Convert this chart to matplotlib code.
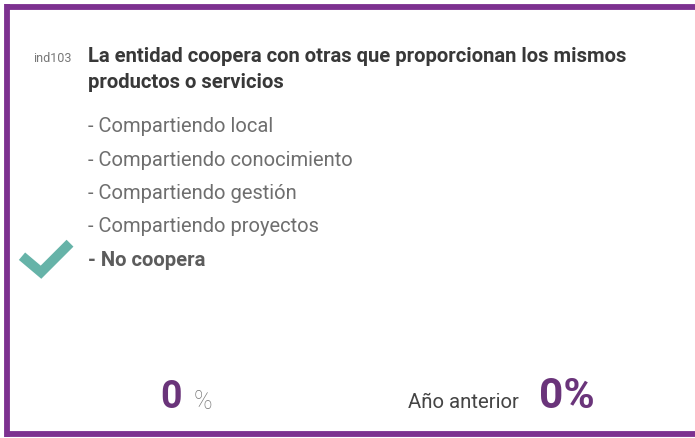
import matplotlib.pyplot as plt

code = "ind103"
title_lines = ["La entidad coopera con otras que proporcionan los mismos",
               "productos o servicios"]
options = ["- Compartiendo local",
           "- Compartiendo conocimiento",
           "- Compartiendo gestión",
           "- Compartiendo proyectos",
           "- No coopera"]
selected = 4
value = 0
prev_label = "Año anterior"
prev_value = 0

PURPLE = "#7d3190"
NUM = "#6a347a"
TEAL = "#66b3a8"

plt.rcParams['font.family'] = ['Roboto', 'DejaVu Sans']

fig = plt.figure(figsize=(6.95, 4.39), dpi=100)
ax = fig.add_axes([0, 0, 1, 1])
ax.set_xlim(0, 695)
ax.set_ylim(439, 0)
ax.axis('off')

# card border (top, left, bottom)
ax.plot([7, 695], [7.5, 7.5], color=PURPLE, lw=4.2, solid_capstyle='butt')
ax.plot([7, 7], [5, 438], color=PURPLE, lw=4.2, solid_capstyle='butt')
ax.plot([5, 695], [435.5, 435.5], color=PURPLE, lw=4.2, solid_capstyle='butt')

ax.text(33, 58, code, fontsize=9, color="#777777", va='center')
for i, line in enumerate(title_lines):
    ax.text(88, 56 + i * 27, line, fontsize=14.6, fontweight='bold',
            color="#383838", va='center')

for i, opt in enumerate(options):
    y = 127 + i * 33.3
    if i == selected:
        ax.text(88, y, opt, fontsize=14.6, fontweight='bold', color="#5c5c5c", va='center')
        ax.plot([22, 41, 70], [y - 3, y + 13, y - 16], color=TEAL, lw=7,
                solid_capstyle='butt', solid_joinstyle='miter')
    else:
        ax.text(88, y, opt, fontsize=14.5, color="#6e6e6e", va='center')

ax.text(160, 398, str(value), fontsize=27, fontweight='bold', color=NUM, va='center')
ax.text(194, 402, "%", fontsize=18, fontweight='light', color="#777777", va='center')
ax.text(408, 403, prev_label, fontsize=14.7, color="#444444", va='center')
ax.text(539, 397, f"{prev_value}%", fontsize=30.5, fontweight='bold', color=NUM, va='center')

fig.savefig("out.png", dpi=100)
